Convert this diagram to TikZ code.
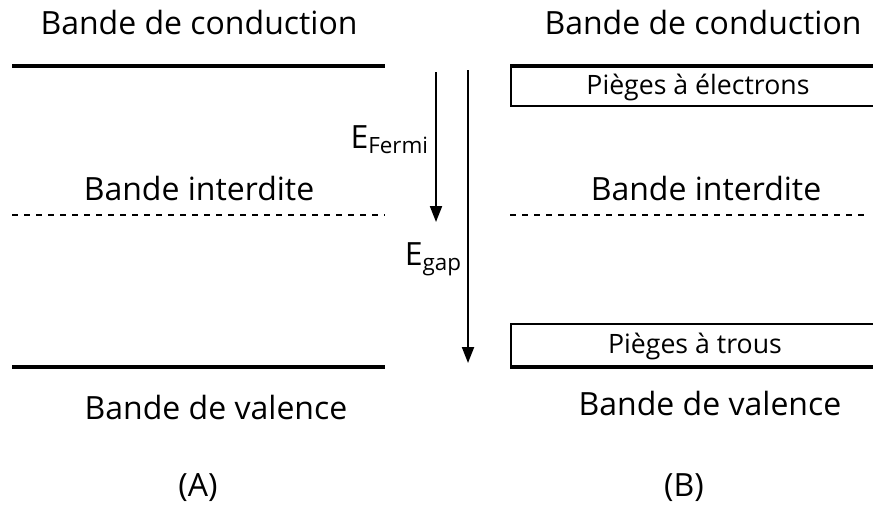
\documentclass[tikz,border=0pt]{standalone}
\usepackage{fontspec}
\setmainfont{Open Sans}
\usetikzlibrary{arrows.meta}

\tikzset{
  bandline/.style={line width=3pt},
  gapline/.style={line width=0.8pt, dash pattern={on 4.5pt off 4.5pt}},
  levelarrow/.style={line width=1.5pt, -{Triangle[length=12pt,width=9pt]}},
  trapbox/.style={draw, line width=1.1pt},
  bigtext/.style={font=\fontsize{24}{28}\selectfont, inner sep=0.75pt},
  traptext/.style={font=\fontsize{20}{24}\selectfont, inner sep=0.75pt}
}

\begin{document}
\begin{tikzpicture}[x=0.75pt,y=0.75pt,yscale=-1,xscale=1]
\clip (0,0) rectangle (873,518);

%Shape: Rectangle (B)
\draw [trapbox] (511,66) rectangle (880,106) ;
\draw [trapbox] (511,324) rectangle (880,367) ;

%Straight Lines (A)
\draw [bandline] (12,66) -- (385,66) ;
\draw [gapline] (12,215) -- (385,215) ;
\draw [bandline] (12,367) -- (385,367) ;
%Straight Lines (B)
\draw [bandline] (510,66) -- (880,66) ;
\draw [gapline] (510,215) -- (866,215) ;
\draw [bandline] (510,367) -- (880,367) ;

%Arrows
\coordinate (fermiTop) at (436,72) ;
\coordinate (fermiEnd) at (436,222) ;
\coordinate (gapTop) at (468,70) ;
\coordinate (gapEnd) at (468,363) ;
\draw [levelarrow] (fermiTop) -- (fermiEnd) ;
\draw [levelarrow] (gapTop) -- (gapEnd) ;

% Text Node
\node [bigtext] (condA) at (199,22) {Bande de conduction};
% Text Node
\node [bigtext] (condB) at (703,22) {Bande de conduction};
% Text Node
\node [bigtext] (interA) at (199,188) {Bande interdite};
% Text Node
\node [bigtext] (interB) at (706,188) {Bande interdite};
% Text Node
\node [bigtext] (valA) at (216,407) {Bande de valence};
% Text Node
\node [bigtext] (valB) at (710,403) {Bande de valence};
% Text Node
\node [bigtext] (labA) at (198,488) {(A)};
% Text Node
\node [bigtext] (labB) at (684,488) {(B)};
% Text Node
\node [traptext] (trapE) at (698,87) {Pièges à électrons};
% Text Node
\node [traptext] (trapH) at (695,346) {Pièges à trous};
% Text Node
\node [bigtext, anchor=east] (eFermi) at (430,140) {E\textsubscript{Fermi}};
% Text Node
\node [bigtext, anchor=east] (eGap) at (463,259) {E\textsubscript{gap}};

\end{tikzpicture}
\end{document}
